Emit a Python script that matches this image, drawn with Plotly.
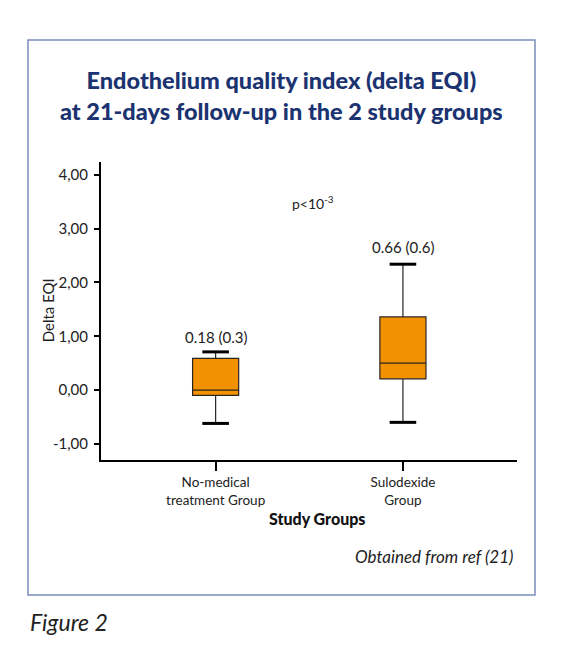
import plotly.graph_objects as go

# box summary per study group
groups = ["No-medical<br>treatment Group", "Sulodexide<br>Group"]
lower_fence = [-0.62, -0.60]
q1_vals = [-0.10, 0.21]
medians = [0.00, 0.50]
q3_vals = [0.59, 1.36]
upper_fence = [0.71, 2.34]
mean_sd_labels = ["0.18 (0.3)", "0.66 (0.6)"]
label_y = [0.99, 2.66]

y_ticks = [-1, 0, 1, 2, 3, 4]
y_tick_text = ["-1,00", "0,00", "1,00", "2,00", "3,00", "4,00"]

FONT = "Lato"
ORANGE = "#F39200"
NAVY = "#1B3370"
TXT = "#222222"

fig = go.Figure()

fig.add_trace(go.Box(
    x=groups,
    q1=q1_vals, median=medians, q3=q3_vals,
    lowerfence=lower_fence, upperfence=upper_fence,
    fillcolor=ORANGE,
    line=dict(color="#2a2420", width=1.2),
    width=0.246,
    whiskerwidth=0.41,
    boxpoints=False,
    hoverinfo="skip",
    showlegend=False,
))

# thicker whisker caps, as in the original
fig.add_trace(go.Scatter(
    x=groups + groups,
    y=lower_fence + upper_fence,
    mode="markers",
    marker=dict(symbol="line-ew", size=19, line=dict(color="black", width=3)),
    hoverinfo="skip",
    showlegend=False,
))

for g, lab, ly in zip(groups, mean_sd_labels, label_y):
    fig.add_annotation(x=g, y=ly, text=lab, showarrow=False,
                       font=dict(family=FONT, size=15, color=TXT))

fig.add_annotation(x=0.52, y=3.48, text="p<10<sup>-3</sup>", showarrow=False,
                   font=dict(family=FONT, size=14, color=TXT))

# title
fig.add_annotation(xref="paper", yref="paper", x=0.435, y=1.2223,
                   xanchor="center", yanchor="middle",
                   text="Endothelium quality index (delta EQI)<br>at 21-days follow-up in the 2 study groups",
                   showarrow=False,
                   font=dict(family=FONT, size=23.5, color=NAVY, weight=900))

# axis titles
fig.add_annotation(xref="paper", yref="paper", x=-0.127, y=0.503, textangle=-90,
                   xanchor="center", yanchor="middle",
                   text="Delta EQI", showarrow=False,
                   font=dict(family=FONT, size=15, color=TXT))
fig.add_annotation(xref="paper", yref="paper", x=0.519, y=-0.1957,
                   xanchor="center", yanchor="middle",
                   text="Study Groups", showarrow=False,
                   font=dict(family=FONT, size=16, color="#111111", weight=900))

fig.add_annotation(xref="paper", yref="paper", x=0.995, y=-0.3245,
                   xanchor="right", yanchor="middle",
                   text="<i>Obtained from ref (21)</i>", showarrow=False,
                   font=dict(family=FONT, size=17, color=TXT))
fig.add_annotation(xref="paper", yref="paper", x=-0.1755, y=-0.5426,
                   xanchor="left", yanchor="middle",
                   text="<i>Figure 2</i>", showarrow=False,
                   font=dict(family=FONT, size=23, color=TXT))

# blue frame around the panel
fig.add_shape(type="rect", xref="paper", yref="paper",
              x0=-0.1755, x1=1.0433, y0=-0.453, y1=1.4094,
              line=dict(color="#7B8DBA", width=1.5))

# page body adds an 8px margin, so the figure is 8px smaller than the window
fig.update_layout(
    width=553, height=649,
    margin=dict(l=93, r=44, t=154, b=197),
    paper_bgcolor="white", plot_bgcolor="white",
    font=dict(family=FONT, size=14, color=TXT),
)
fig.update_xaxes(
    type="category", range=[-0.612, 1.609],
    showline=True, linecolor="black", linewidth=2,
    ticks="outside", ticklen=9, tickwidth=1.5, tickcolor="black",
    showgrid=False, zeroline=False,
    tickfont=dict(family=FONT, size=13.5, color=TXT),
)
fig.update_yaxes(
    range=[-1.30, 4.24],
    tickvals=y_ticks, ticktext=y_tick_text,
    showline=True, linecolor="black", linewidth=2,
    ticks="outside", ticklen=5, tickwidth=1.5, tickcolor="black",
    ticklabelstandoff=3,
    showgrid=False, zeroline=False,
    tickfont=dict(family=FONT, size=15, color=TXT),
)

fig.write_html("out.html")
